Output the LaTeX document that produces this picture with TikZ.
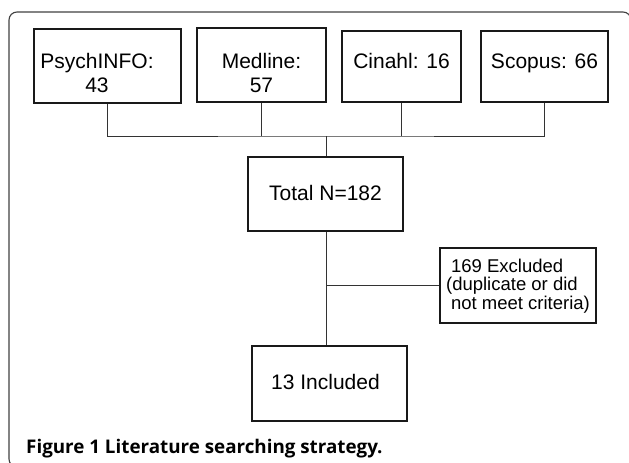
\documentclass[tikz,border=0pt]{standalone}
\usepackage{fontspec}
\setmainfont{Liberation Sans}
\newfontfamily\capfont{Open Sans}

\begin{document}
\begin{tikzpicture}[x=1pt,y=-1pt,
  box/.style={draw=black!90,line width=2.2pt,inner sep=0pt,font=\fontsize{21}{24}\selectfont},
  link/.style={draw=black!80,line width=1pt}]
\useasboundingbox (0,0) rectangle (629,463);
\draw[black!75,line width=1.1pt,rounded corners=8pt] (9,12) rectangle (631,467);

\node[box,minimum width=147pt,text height=39pt,text depth=35pt] (psych) at (107.5,66) {\begin{tabular}[t]{@{}c@{\hspace{21pt}}}PsychINFO:\\43\end{tabular}};
\node[box,minimum width=129pt,text height=40pt,text depth=34pt] (medline) at (261.5,65) {\begin{tabular}[t]{@{}c@{}}Medline:\\57\end{tabular}};
\node[box,minimum width=119pt,text height=37pt,text depth=34pt] (cinahl) at (401.5,66.5) {Cinahl: 16};
\node[box,minimum width=127pt,text height=37pt,text depth=34pt] (scopus) at (544.5,66.5) {Scopus: 66};
\node[box,minimum width=155pt,text height=43pt,text depth=31pt] (total) at (325.5,194) {Total N=182};
\node[box,font=\fontsize{18.5}{18.5}\selectfont,minimum width=156pt,text height=24pt,text depth=51pt] (excl) at (518,285.5) {\begin{tabular}[t]{@{}l@{}}\hspace*{5pt}169 Excluded\\(duplicate or did\\\hspace*{5pt}not meet criteria)\end{tabular}};
\node[box,minimum width=155pt,text height=43pt,text depth=32pt] (incl) at (329.5,383.5) {13 Included\hspace*{8pt}};

\coordinate (hub) at (326,136);
\coordinate (split) at (326,285.5);

\draw[link] (psych.south) |- (hub) -| (scopus.south);
\draw[link] (medline.south) -- (medline.south |- hub);
\draw[link] (cinahl.south) -- (cinahl.south |- hub);
\draw[link] (hub) -- (hub |- total.north);
\draw[link] (split |- total.south) -- (split |- incl.north);
\draw[link] (split) -- (excl.west);

\node[anchor=base west,inner sep=0pt,font=\capfont\bfseries\fontsize{18.8}{20}\selectfont,text=black] (caption) at (26,453) {Figure 1 Literature searching strategy.};
\end{tikzpicture}
\end{document}
